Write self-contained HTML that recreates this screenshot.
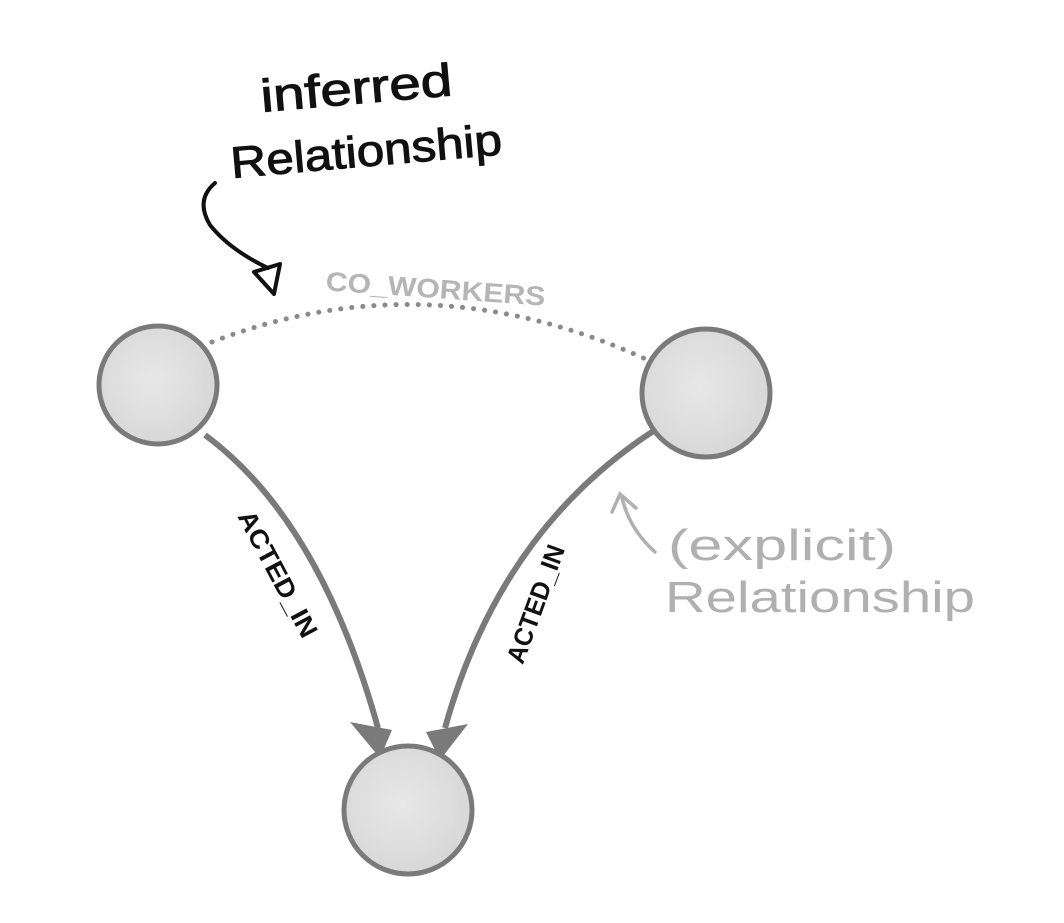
<!DOCTYPE html>
<html><head><meta charset="utf-8"><style>
html,body{margin:0;padding:0;background:#fff;}
svg{display:block;}
</style></head><body>
<svg width="1064" height="923" viewBox="0 0 1064 923" xmlns="http://www.w3.org/2000/svg">
<defs>
<radialGradient id="g" cx="45%" cy="45%" r="60%">
<stop offset="0" stop-color="#e8e8e8"/><stop offset="1" stop-color="#d6d6d6"/>
</radialGradient>
</defs>
<path d="M212 342 Q430 258 652 362" fill="none" stroke="#8a8a8a" stroke-width="5" stroke-linecap="round" stroke-dasharray="0.1 11"/>
<text x="325" y="298" textLength="220" lengthAdjust="spacingAndGlyphs" font-family="Liberation Sans, sans-serif" font-weight="bold" font-size="27" fill="#b5b5b5" transform="rotate(4 435 298)">CO_WORKERS</text>
<path d="M205 435 Q320 520 378 728" fill="none" stroke="#7a7a7a" stroke-width="6"/>
<path d="M655 430 Q500 530 445 728" fill="none" stroke="#7a7a7a" stroke-width="6"/>
<polygon points="350,722 392,730 380,758" fill="#7a7a7a"/>
<polygon points="426,732 468,724 440,760" fill="#7a7a7a"/>
<text x="-70" y="0" textLength="140" lengthAdjust="spacingAndGlyphs" font-family="Liberation Sans, sans-serif" font-weight="bold" font-size="26" fill="#111" transform="translate(270 578) rotate(62)">ACTED_IN</text>
<text x="-62" y="0" textLength="124" lengthAdjust="spacingAndGlyphs" font-family="Liberation Sans, sans-serif" font-weight="bold" font-size="26" fill="#111" transform="translate(544 607) rotate(-70)">ACTED_IN</text>
<circle cx="158" cy="385" r="59" fill="url(#g)" stroke="#7a7a7a" stroke-width="5"/>
<circle cx="706" cy="393" r="64" fill="url(#g)" stroke="#7a7a7a" stroke-width="5"/>
<circle cx="408" cy="810" r="64" fill="url(#g)" stroke="#7a7a7a" stroke-width="5"/>
<text x="262" y="112" textLength="192" lengthAdjust="spacingAndGlyphs" font-family="Liberation Sans, sans-serif" font-size="46" fill="#111" stroke="#111" stroke-width="1" transform="rotate(-5 262 112)">inferred</text>
<text x="232" y="178" textLength="272" lengthAdjust="spacingAndGlyphs" font-family="Liberation Sans, sans-serif" font-size="44" fill="#111" stroke="#111" stroke-width="1" transform="rotate(-5 232 178)">Relationship</text>
<path d="M215 183 Q195 200 210 225 Q230 250 268 268" fill="none" stroke="#111" stroke-width="4" stroke-linecap="round"/>
<polygon points="280,264 254,272 274,294" fill="none" stroke="#111" stroke-width="4" stroke-linejoin="round"/>
<path d="M655 552 Q630 530 622 498" fill="none" stroke="#b0b0b0" stroke-width="3.5" stroke-linecap="round"/>
<path d="M612 512 L620 494 L636 508" fill="none" stroke="#b0b0b0" stroke-width="3.5" stroke-linecap="round"/>
<text x="668" y="560" textLength="228" lengthAdjust="spacingAndGlyphs" font-family="Liberation Sans, sans-serif" font-size="44" fill="#b0b0b0">(explicit)</text>
<text x="665" y="612" textLength="310" lengthAdjust="spacingAndGlyphs" font-family="Liberation Sans, sans-serif" font-size="44" fill="#b0b0b0">Relationship</text>
</svg>
</body></html>
